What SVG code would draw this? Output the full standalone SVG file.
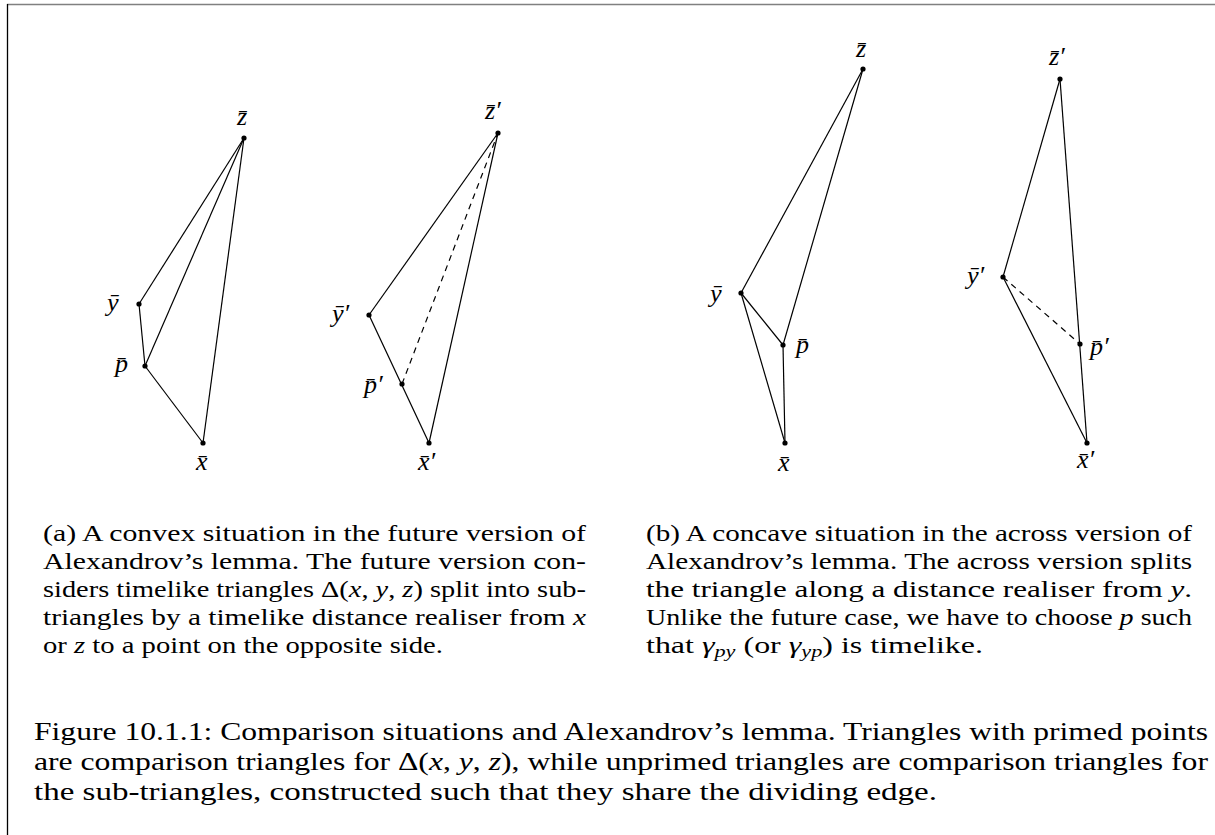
<svg xmlns="http://www.w3.org/2000/svg" width="1215" height="835" viewBox="0 0 1215 835">
<style>
.e{stroke:#000;stroke-width:1.2;fill:none}
.d{stroke:#000;stroke-width:1.2;fill:none;stroke-dasharray:6 5}
.pt{fill:#000}
.lb{font-family:"Liberation Serif","DejaVu Serif",serif;font-style:italic;font-size:26px;fill:#000}
.sc{font-family:"Liberation Serif","DejaVu Serif",serif;font-size:23px;fill:#000}
.cp{font-family:"Liberation Serif","DejaVu Serif",serif;font-size:25.5px;fill:#000}
.i{font-style:italic}
</style>
<rect width="1215" height="835" fill="#fff"/>
<g id="frame">
<line x1="7" y1="4.5" x2="1215" y2="4.5" stroke="#808080" stroke-width="1.6"/>
<line x1="7.5" y1="4" x2="7.5" y2="835" stroke="#000" stroke-width="1.3"/>
</g>
<g id="connectors">
<line class="e" x1="244" y1="138" x2="139" y2="304"/>
<line class="e" x1="244" y1="138" x2="145" y2="366"/>
<line class="e" x1="244" y1="138" x2="203" y2="443"/>
<line class="e" x1="139" y1="304" x2="145" y2="366"/>
<line class="e" x1="145" y1="366" x2="203" y2="443"/>
<line class="e" x1="498" y1="133" x2="369" y2="315"/>
<line class="e" x1="369" y1="315" x2="429" y2="443"/>
<line class="e" x1="498" y1="133" x2="429" y2="443"/>
<line class="d" x1="402" y1="384" x2="498" y2="133"/>
<line class="e" x1="863" y1="69" x2="741" y2="293"/>
<line class="e" x1="863" y1="69" x2="783" y2="345"/>
<line class="e" x1="741" y1="293" x2="783" y2="345"/>
<line class="e" x1="741" y1="293" x2="785" y2="443"/>
<line class="e" x1="783" y1="345" x2="785" y2="443"/>
<line class="e" x1="1060" y1="79" x2="1003" y2="277"/>
<line class="e" x1="1060" y1="79" x2="1087" y2="443"/>
<line class="e" x1="1003" y1="277" x2="1087" y2="443"/>
<line class="d" x1="1003" y1="277" x2="1080" y2="344"/>
</g>
<g id="node-a-z"><circle class="pt" cx="244" cy="138" r="2.6"/><text class="lb" x="237" y="125">z̄</text></g>
<g id="node-a-y"><circle class="pt" cx="139" cy="304" r="2.6"/><text class="lb" x="107" y="311">ȳ</text></g>
<g id="node-a-p"><circle class="pt" cx="145" cy="366" r="2.6"/><text class="lb" x="115" y="372">p̄</text></g>
<g id="node-a-x"><circle class="pt" cx="203" cy="443" r="2.6"/><text class="lb" x="196" y="470">x̄</text></g>
<g id="node-a-z2"><circle class="pt" cx="498" cy="133" r="2.6"/><text class="lb" x="485" y="119">z̄′</text></g>
<g id="node-a-y2"><circle class="pt" cx="369" cy="315" r="2.6"/><text class="lb" x="332" y="322">ȳ′</text></g>
<g id="node-a-p2"><circle class="pt" cx="402" cy="384" r="2.6"/><text class="lb" x="364" y="393">p̄′</text></g>
<g id="node-a-x2"><circle class="pt" cx="429" cy="443" r="2.6"/><text class="lb" x="418" y="470">x̄′</text></g>
<g id="node-b-z"><circle class="pt" cx="863" cy="69" r="2.6"/><text class="lb" x="856" y="57">z̄</text></g>
<g id="node-b-y"><circle class="pt" cx="741" cy="293" r="2.6"/><text class="lb" x="710" y="302">ȳ</text></g>
<g id="node-b-p"><circle class="pt" cx="783" cy="345" r="2.6"/><text class="lb" x="796" y="353">p̄</text></g>
<g id="node-b-x"><circle class="pt" cx="785" cy="443" r="2.6"/><text class="lb" x="778" y="471">x̄</text></g>
<g id="node-b-z2"><circle class="pt" cx="1060" cy="79" r="2.6"/><text class="lb" x="1049" y="65">z̄′</text></g>
<g id="node-b-y2"><circle class="pt" cx="1003" cy="277" r="2.6"/><text class="lb" x="967" y="284">ȳ′</text></g>
<g id="node-b-p2"><circle class="pt" cx="1080" cy="344" r="2.6"/><text class="lb" x="1090" y="355">p̄′</text></g>
<g id="node-b-x2"><circle class="pt" cx="1087" cy="443" r="2.6"/><text class="lb" x="1077" y="468">x̄′</text></g>
<g id="subcaption-a">
<text class="sc" x="43" y="541" textLength="543" lengthAdjust="spacingAndGlyphs">(a) A convex situation in the future version of</text>
<text class="sc" x="43" y="569" textLength="543" lengthAdjust="spacingAndGlyphs">Alexandrov’s lemma. The future version con-</text>
<text class="sc" x="43" y="597" textLength="543" lengthAdjust="spacingAndGlyphs">siders timelike triangles Δ(<tspan class="i">x</tspan>, <tspan class="i">y</tspan>, <tspan class="i">z</tspan>) split into sub-</text>
<text class="sc" x="43" y="625" textLength="543" lengthAdjust="spacingAndGlyphs">triangles by a timelike distance realiser from <tspan class="i">x</tspan></text>
<text class="sc" x="43" y="653" textLength="400" lengthAdjust="spacingAndGlyphs">or <tspan class="i">z</tspan> to a point on the opposite side.</text>
</g>
<g id="subcaption-b">
<text class="sc" x="646" y="541" textLength="546" lengthAdjust="spacingAndGlyphs">(b) A concave situation in the across version of</text>
<text class="sc" x="646" y="569" textLength="546" lengthAdjust="spacingAndGlyphs">Alexandrov’s lemma. The across version splits</text>
<text class="sc" x="646" y="597" textLength="546" lengthAdjust="spacingAndGlyphs">the triangle along a distance realiser from <tspan class="i">y</tspan>.</text>
<text class="sc" x="646" y="625" textLength="546" lengthAdjust="spacingAndGlyphs">Unlike the future case, we have to choose <tspan class="i">p</tspan> such</text>
<text class="sc" x="646" y="653" textLength="337" lengthAdjust="spacingAndGlyphs">that <tspan class="i">γ</tspan><tspan class="i" font-size="16" dy="4">py</tspan><tspan dy="-4"> (or </tspan><tspan class="i">γ</tspan><tspan class="i" font-size="16" dy="4">yp</tspan><tspan dy="-4">) is timelike.</tspan></text>
</g>
<g id="caption">
<text class="cp" x="34" y="740" textLength="1174" lengthAdjust="spacingAndGlyphs">Figure 10.1.1: Comparison situations and Alexandrov’s lemma. Triangles with primed points</text>
<text class="cp" x="34" y="770" textLength="1174" lengthAdjust="spacingAndGlyphs">are comparison triangles for Δ(<tspan class="i">x</tspan>, <tspan class="i">y</tspan>, <tspan class="i">z</tspan>), while unprimed triangles are comparison triangles for</text>
<text class="cp" x="34" y="800" textLength="903" lengthAdjust="spacingAndGlyphs">the sub-triangles, constructed such that they share the dividing edge.</text>
</g>
</svg>
